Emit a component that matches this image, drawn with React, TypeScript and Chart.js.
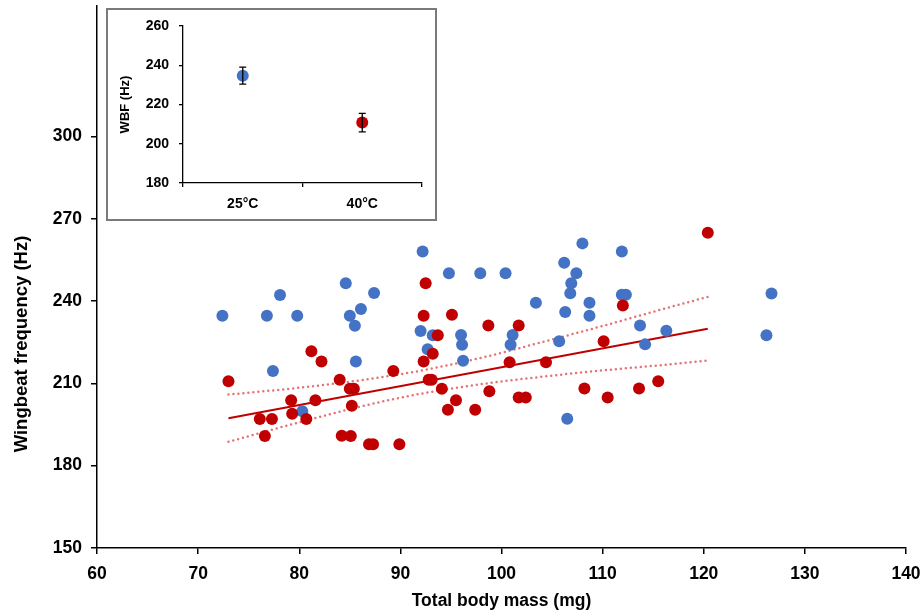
import React, { useEffect, useRef } from 'react';
import { Chart, registerables } from 'chart.js';

Chart.register(...registerables);

// ---- Main scatter data (mass in mg, wingbeat frequency in Hz) ----
const blueMass = [
  72.4, 76.8, 78.1, 79.8, 77.4, 80.3, 84.6, 85.0, 85.5, 86.1, 87.4, 85.6,
  92.2, 92.0, 93.2, 92.7, 94.8, 97.9, 100.4, 108.0, 111.9, 106.2, 107.4, 106.9,
  106.8, 111.9, 112.3, 103.4, 108.7, 108.7, 106.3, 96.0, 96.1, 96.2, 101.1, 100.9,
  105.7, 113.7, 116.3, 114.2, 106.5, 126.7, 126.2,
];
const blueWBF = [
  234.6, 234.6, 242.2, 234.6, 214.5, 199.8, 246.5, 234.6, 231.0, 237.1, 242.9, 218.0,
  258.0, 229.1, 227.5, 222.4, 250.1, 250.1, 250.1, 261.0, 258.0, 253.9, 250.1, 246.5,
  242.8, 242.3, 242.3, 239.4, 239.4, 234.6, 236.0, 227.6, 224.1, 218.2, 227.6, 224.1,
  225.3, 231.1, 229.2, 224.2, 197.1, 242.7, 227.5,
];
const redMass = [
  73.0, 81.2, 82.2, 79.2, 81.6, 76.1, 77.3, 79.3, 80.7, 76.6, 84.0, 85.0,
  85.4, 85.2, 84.2, 85.1, 86.9, 87.3, 89.9, 89.3, 92.5, 92.3, 93.7, 93.2,
  92.3, 92.8, 93.1, 94.1, 120.4, 95.1, 98.7, 101.7, 112.0, 100.8, 104.4, 110.1,
  95.5, 94.7, 97.4, 98.8, 101.7, 102.4, 108.2, 110.5, 113.6, 115.5,
];
const redWBF = [
  210.8, 221.7, 218.0, 203.8, 203.8, 197.0, 197.0, 198.9, 197.0, 190.8, 211.3, 208.0,
  208.0, 201.8, 190.9, 190.8, 187.8, 187.8, 187.8, 214.5, 246.5, 234.6, 227.5, 220.8,
  218.0, 211.3, 211.3, 208.0, 264.9, 235.0, 231.1, 231.1, 238.4, 217.7, 217.7, 225.3,
  203.8, 200.4, 200.4, 207.1, 204.8, 204.8, 208.1, 204.8, 208.1, 210.8,
];

// ---- Regression line and its confidence band (40°C group) ----
const fitMass = [73.0, 120.4];
const fitWBF = [197.3, 229.9];
const ciMass = [73, 80, 86, 92, 98, 104, 110, 116, 120.4];
const ciUpper = [205.9, 208.4, 211.1, 214.6, 219.3, 225.0, 230.9, 237.1, 241.5];
const ciLower = [188.7, 195.8, 201.5, 206.2, 209.7, 212.4, 214.7, 216.7, 218.3];

// ---- Axis ticks / titles ----
const yTicks = [150, 180, 210, 240, 270, 300];
const xTitle = 'Total body mass (mg)';
const yTitle = 'Wingbeat frequency (Hz)';

// ---- Inset data ----
const insetCategories = ['25°C', '40°C'];
const insetMeans = [234.7, 210.8];
const insetErrors = [4.3, 4.7];
const insetYTicks = [180, 200, 220, 240, 260];
const insetYTitle = 'WBF (Hz)';

const BLUE = '#4472C4';
const RED = '#C00000';
const FONT = '"Liberation Sans", Arial, sans-serif';

const pts = (xs: number[], ys: number[]) => xs.map((x, i) => ({ x, y: ys[i] }));

export default function App() {
  const mainRef = useRef<HTMLCanvasElement | null>(null);
  const insetRef = useRef<HTMLCanvasElement | null>(null);

  useEffect(() => {
    if (!mainRef.current || !insetRef.current) return;

    const titlePlugin = {
      id: 'mainTitles',
      afterDraw(chart: any) {
        const ctx = chart.ctx;
        ctx.save();
        ctx.fillStyle = '#000';
        ctx.font = `bold 17.5px ${FONT}`;
        ctx.textAlign = 'center';
        ctx.textBaseline = 'middle';
        ctx.fillText(xTitle, (chart.chartArea.left + chart.chartArea.right) / 2, 601);
        ctx.translate(22, 344);
        ctx.rotate(-Math.PI / 2);
        ctx.font = `bold 18.5px ${FONT}`;
        ctx.fillText(yTitle, 0, 0);
        ctx.restore();
      },
    };

    const main = new Chart(mainRef.current, {
      type: 'scatter',
      data: {
        datasets: [
          {
            label: 'upper',
            data: pts(ciMass, ciUpper),
            showLine: true,
            borderColor: '#E57373',
            borderWidth: 2.5,
            borderDash: [0, 5],
            borderCapStyle: 'round',
            cubicInterpolationMode: 'monotone',
            pointRadius: 0,
            order: 4,
          } as any,
          {
            label: 'lower',
            data: pts(ciMass, ciLower),
            showLine: true,
            borderColor: '#E57373',
            borderWidth: 2.5,
            borderDash: [0, 5],
            borderCapStyle: 'round',
            cubicInterpolationMode: 'monotone',
            pointRadius: 0,
            order: 4,
          } as any,
          {
            label: 'fit',
            data: pts(fitMass, fitWBF),
            showLine: true,
            borderColor: RED,
            borderWidth: 2,
            pointRadius: 0,
            order: 3,
          } as any,
          {
            label: '25°C',
            data: pts(blueMass, blueWBF),
            pointRadius: 6,
            pointBackgroundColor: BLUE,
            pointBorderColor: BLUE,
            pointBorderWidth: 0,
            order: 2,
          } as any,
          {
            label: '40°C',
            data: pts(redMass, redWBF),
            pointRadius: 6,
            pointBackgroundColor: RED,
            pointBorderColor: RED,
            pointBorderWidth: 0,
            order: 1,
          } as any,
        ],
      },
      options: {
        animation: false,
        responsive: false,
        layout: { padding: { left: 0, top: 0, right: 17, bottom: 0 } },
        plugins: { legend: { display: false }, tooltip: { enabled: false } },
        scales: {
          x: {
            type: 'linear',
            min: 60,
            max: 140,
            ticks: { stepSize: 10, color: '#000', padding: 10, font: { family: FONT, size: 17.5, weight: 'bold' } },
            grid: { drawOnChartArea: false, drawTicks: true, tickLength: 6, color: '#000', lineWidth: 1.5 },
            border: { display: true, color: '#000', width: 1.5 },
            afterFit: (s: any) => {
              s.height = 68;
              s.paddingRight = 0;
              s.paddingLeft = 0;
            },
          },
          y: {
            type: 'linear',
            min: 150,
            max: 347.5,
            ticks: { color: '#000', padding: 9, font: { family: FONT, size: 17.5, weight: 'bold' } },
            afterBuildTicks: (s: any) => {
              s.ticks = yTicks.map((v) => ({ value: v }));
            },
            grid: { drawOnChartArea: false, drawTicks: true, tickLength: 6, color: '#000', lineWidth: 1.5 },
            border: { display: true, color: '#000', width: 1.5 },
            afterFit: (s: any) => {
              s.width = 97;
              s.paddingTop = 0;
              s.paddingBottom = 0;
            },
          },
        },
      } as any,
      plugins: [titlePlugin],
    });

    const errorPlugin = {
      id: 'errorBars',
      afterDatasetsDraw(chart: any) {
        const ctx = chart.ctx;
        const xs = chart.scales.x;
        const ys = chart.scales.y;
        ctx.save();
        ctx.strokeStyle = '#000';
        ctx.lineWidth = 1.3;
        insetMeans.forEach((m, i) => {
          const px = xs.getPixelForValue(i);
          const top = ys.getPixelForValue(m + insetErrors[i]);
          const bot = ys.getPixelForValue(m - insetErrors[i]);
          ctx.beginPath();
          ctx.moveTo(px, top);
          ctx.lineTo(px, bot);
          ctx.moveTo(px - 3.5, top);
          ctx.lineTo(px + 3.5, top);
          ctx.moveTo(px - 3.5, bot);
          ctx.lineTo(px + 3.5, bot);
          ctx.stroke();
        });
        ctx.restore();
      },
      afterDraw(chart: any) {
        const ctx = chart.ctx;
        ctx.save();
        ctx.fillStyle = '#000';
        ctx.font = `bold 13px ${FONT}`;
        ctx.textAlign = 'center';
        ctx.textBaseline = 'middle';
        const a = chart.chartArea;
        ctx.translate(17, (a.top + a.bottom) / 2);
        ctx.rotate(-Math.PI / 2);
        ctx.fillText(insetYTitle, 0, 0);
        ctx.restore();
      },
    };

    const inset = new Chart(insetRef.current, {
      type: 'line',
      data: {
        labels: insetCategories,
        datasets: [
          {
            label: 'WBF',
            data: insetMeans,
            showLine: false,
            pointRadius: 6,
            pointBackgroundColor: [BLUE, RED],
            pointBorderColor: [BLUE, RED],
            pointBorderWidth: 0,
          } as any,
        ],
      },
      options: {
        animation: false,
        responsive: false,
        layout: { padding: { left: 0, top: 0, right: 13, bottom: 0 } },
        plugins: { legend: { display: false }, tooltip: { enabled: false } },
        scales: {
          x: {
            type: 'category',
            offset: true,
            ticks: { color: '#000', padding: 9, font: { family: FONT, size: 14, weight: 'bold' } },
            grid: { offset: true, drawOnChartArea: false, drawTicks: true, tickLength: 4, color: '#000', lineWidth: 1.3 },
            border: { display: true, color: '#000', width: 1.3 },
            afterFit: (s: any) => {
              s.height = 36;
            },
          },
          y: {
            type: 'linear',
            min: 180,
            max: 260,
            ticks: { color: '#000', padding: 10, font: { family: FONT, size: 14, weight: 'bold' } },
            afterBuildTicks: (s: any) => {
              s.ticks = insetYTicks.map((v) => ({ value: v }));
            },
            grid: { drawOnChartArea: false, drawTicks: true, tickLength: 4, color: '#000', lineWidth: 1.3 },
            border: { display: true, color: '#000', width: 1.3 },
            afterFit: (s: any) => {
              s.width = 75;
              s.paddingTop = 16;
            },
          },
        },
      } as any,
      plugins: [errorPlugin],
    });

    return () => {
      main.destroy();
      inset.destroy();
    };
  }, []);

  return (
    <div style={{ position: 'absolute', left: 0, top: 0, width: 923, height: 616, background: '#fff' }}>
      <canvas ref={mainRef} width={923} height={616} style={{ position: 'absolute', left: 0, top: 0 }} />
      <div
        style={{
          position: 'absolute',
          left: 106,
          top: 8,
          width: 331,
          height: 213,
          boxSizing: 'border-box',
          border: '2px solid #7a7a7a',
          background: '#fff',
        }}
      >
        <canvas ref={insetRef} width={327} height={209} style={{ display: 'block' }} />
      </div>
    </div>
  );
}
